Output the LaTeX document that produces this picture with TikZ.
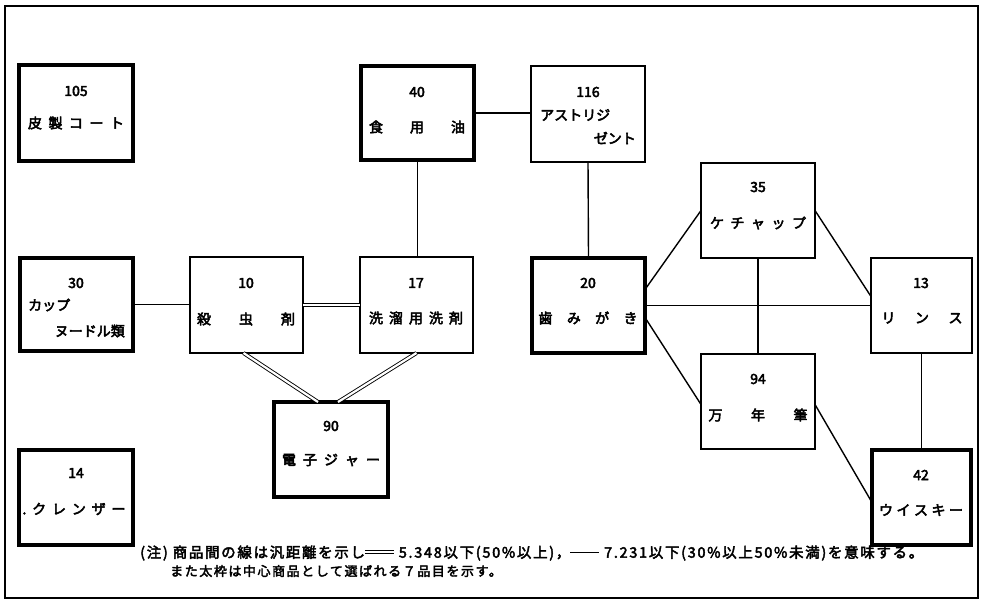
\documentclass[tikz,border=0pt]{standalone}
\usepackage{fontspec}
\setmainfont{Noto Sans CJK JP}[FakeBold=3.5]
\newfontfamily\notefont{Noto Sans CJK JP}[LetterSpace=12, FakeBold=3]
\usetikzlibrary{calc}
\tikzset{
  thickbox/.style={draw, line width=3.2pt, inner sep=0pt, outer sep=0pt},
  thinbox/.style={draw, line width=1.7pt, inner sep=0pt, outer sep=0pt},
  link/.style={line width=1.4pt},
  dlink/.style={double, double distance=2.2pt, line width=0.9pt},
  num/.style={font=\fontsize{14}{14}\selectfont, inner sep=0pt},
  lab/.style={font=\fontsize{14}{14}\selectfont, inner sep=0pt},
  note/.style={font=\notefont\fontsize{12}{13}\selectfont, inner sep=0pt, anchor=west},
}
\newcommand\spr[2]{\makebox[#1pt]{#2}}
\newcommand\mkbox[6]{\node[#6, minimum width={(#4-#2)*1pt}, minimum height={(#5-#3)*1pt}] (#1) at ({(#2+#4)/2},{(#3+#5)/2}) {};}
\newcommand\dblrule{\raisebox{3pt}{\rlap{\rule{24pt}{0.7pt}}\raisebox{2.6pt}{\rule{24pt}{0.7pt}}}}
\newcommand\sglrule{\raisebox{4.3pt}{\rule{24pt}{0.8pt}}}
\begin{document}
\begin{tikzpicture}[x=1pt, y=-1pt]
\useasboundingbox (0,0) rectangle (981,600);
\draw[line width=2pt] (5,6) rectangle (978,598);
% boxes
\mkbox{b105}{19}{65}{133}{161}{thickbox}
\mkbox{b40}{361}{66}{474}{160}{thickbox}
\mkbox{b116}{531}{66}{645}{162}{thinbox}
\mkbox{b30}{20}{258}{133}{351}{thickbox}
\mkbox{b10}{190}{257}{303}{353}{thinbox}
\mkbox{b17}{360}{257}{473}{353}{thinbox}
\mkbox{b20}{532}{258}{645}{353}{thickbox}
\mkbox{b35}{701}{163}{815}{258}{thinbox}
\mkbox{b13}{871}{258}{972}{353}{thinbox}
\mkbox{b94}{701}{354}{815}{449}{thinbox}
\mkbox{b90}{274}{402}{388}{497}{thickbox}
\mkbox{b14}{19}{450}{133}{545}{thickbox}
\mkbox{b42}{872}{450}{971}{545}{thickbox}
% connectors
\draw[link] (b40.east) -- (b116.west |- b40.east);
\draw[link] (b40.south) -- (b17.north -| b40.south);
\draw[link] (b116.south) -- (b20.north);
\draw[link] (b30.east) -- (b10.west |- b30.east);
\draw[dlink] (b10.east) -- (b17.west);
\draw[dlink] ([xshift=-3pt]b10.south) -- ([xshift=-13pt]b90.north);
\draw[dlink] (b17.south) -- ([xshift=7pt]b90.north);
\draw[link] ([yshift=16pt]b20.east) -- (b35.west);
\draw[link] (b35.east) -- ([yshift=9pt]b13.west);
\draw[link] (b20.east) -- (b13.west);
\draw[link] (b35.south) -- (b94.north);
\draw[link] ([yshift=-12pt]b20.east) -- ([yshift=-3pt]b94.west);
\draw[link] ([yshift=-3pt]b94.east) -- ([yshift=-5pt]b42.west);
\draw[link] (b13.south) -- (b42.north);
% texts
\node[num] (n105) at (76,91) {105};
\node[lab] (l105) at (76,123) {\spr{96}{皮\hfill 製\hfill コ\hfill ー\hfill ト}};
\node[num] (n40) at (417,92) {40};
\node[lab] (l40) at (417,127) {\spr{96}{食\hfill 用\hfill 油}};
\node[num] (n116) at (588,92) {116};
\node[lab, anchor=west] (l116a) at (540,115) {アストリジ};
\node[lab, anchor=east] (l116b) at (636,138) {ゼント};
\node[num] (n30) at (76,283) {30};
\node[lab, anchor=west] (l30a) at (28,305) {カップ};
\node[lab, anchor=east] (l30b) at (125,331) {ヌードル類};
\node[num] (n10) at (246,283) {10};
\node[lab] (l10) at (246,319) {\spr{98}{殺\hfill 虫\hfill 剤}};
\node[num] (n17) at (416,283) {17};
\node[lab] (l17) at (416,318) {\spr{94}{洗\hfill 溜\hfill 用\hfill 洗\hfill 剤}};
\node[num] (n20) at (588,283) {20};
\node[lab] (l20) at (588,318) {\spr{99}{歯\hfill み\hfill が\hfill き}};
\node[num] (n35) at (758,187) {35};
\node[lab] (l35) at (758,223) {\spr{96}{ケ\hfill チ\hfill ャ\hfill ッ\hfill プ}};
\node[num] (n13) at (921,283) {13};
\node[lab] (l13) at (922,318) {\spr{81}{リ\hfill ン\hfill ス}};
\node[num] (n94) at (758,379) {94};
\node[lab] (l94) at (758,415) {\spr{99}{万\hfill 年\hfill 筆}};
\node[num] (n90) at (331,426) {90};
\node[lab] (l90) at (331,460) {\spr{98}{電\hfill 子\hfill ジ\hfill ャ\hfill ー}};
\node[num] (n14) at (76,473) {14};
\node[lab] (l14) at (74,509) {\spr{103}{.\hfill ク\hfill レ\hfill ン\hfill ザ\hfill ー}};
\node[num] (n42) at (921,475) {42};
\node[lab] (l42) at (921,510) {\spr{84}{ウ\hfill イ\hfill ス\hfill キ\hfill ー}};
% note
\node[note] (note1) at (140,553) {\resizebox{783pt}{!}{(注) 商品間の線は汎距離を示し\dblrule\ 5.348以下(50\%以上)，\sglrule\ 7.231以下(30\%以上50\%未満)を意味する。}};
\node[note, font=\notefont\fontsize{13}{14}\selectfont] (note2) at (170,571) {また太枠は中心商品として選ばれる７品目を示す。};
\end{tikzpicture}
\end{document}
